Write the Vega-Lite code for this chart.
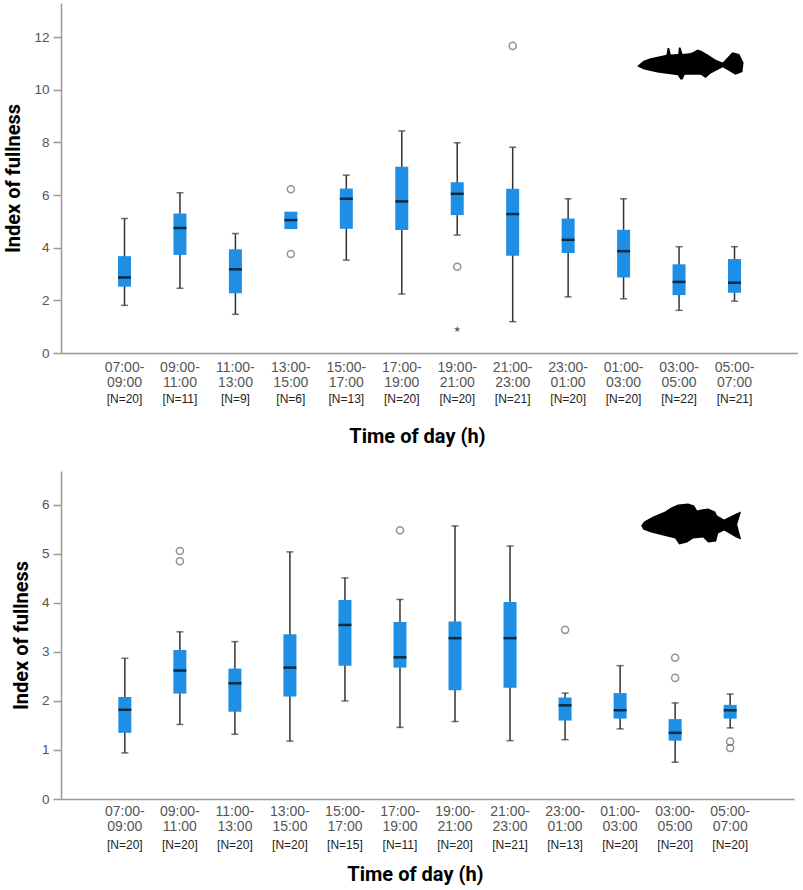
{
  "$schema": "https://vega.github.io/schema/vega-lite/v6.json",
  "padding": {"left": 3, "top": 3, "right": 0, "bottom": 3},
  "spacing": 25,
  "datasets": {
    "stick": [
      {"group": "07:00-09:00 [N=20]", "lo": 1.81, "q1": 2.52, "med": 2.87, "q3": 3.68, "hi": 5.11},
      {"group": "09:00-11:00 [N=11]", "lo": 2.46, "q1": 3.73, "med": 4.75, "q3": 5.30, "hi": 6.09},
      {"group": "11:00-13:00 [N=9]", "lo": 1.47, "q1": 2.27, "med": 3.18, "q3": 3.94, "hi": 4.54},
      {"group": "13:00-15:00 [N=6]", "lo": null, "q1": 4.71, "med": 5.05, "q3": 5.37, "hi": null},
      {"group": "15:00-17:00 [N=13]", "lo": 3.53, "q1": 4.72, "med": 5.86, "q3": 6.25, "hi": 6.76},
      {"group": "17:00-19:00 [N=20]", "lo": 2.24, "q1": 4.67, "med": 5.76, "q3": 7.08, "hi": 8.44},
      {"group": "19:00-21:00 [N=20]", "lo": 4.48, "q1": 5.24, "med": 6.05, "q3": 6.49, "hi": 7.99},
      {"group": "21:00-23:00 [N=21]", "lo": 1.19, "q1": 3.70, "med": 5.28, "q3": 6.24, "hi": 7.82},
      {"group": "23:00-01:00 [N=20]", "lo": 2.13, "q1": 3.80, "med": 4.30, "q3": 5.11, "hi": 5.86},
      {"group": "01:00-03:00 [N=20]", "lo": 2.06, "q1": 2.87, "med": 3.87, "q3": 4.68, "hi": 5.86},
      {"group": "03:00-05:00 [N=22]", "lo": 1.62, "q1": 2.20, "med": 2.70, "q3": 3.37, "hi": 4.04},
      {"group": "05:00-07:00 [N=21]", "lo": 1.97, "q1": 2.29, "med": 2.67, "q3": 3.57, "hi": 4.04}
    ],
    "stickOut": [
      {"group": "13:00-15:00 [N=6]", "value": 6.22, "kind": "circle"},
      {"group": "13:00-15:00 [N=6]", "value": 3.76, "kind": "circle"},
      {"group": "19:00-21:00 [N=20]", "value": 3.28, "kind": "circle"},
      {"group": "19:00-21:00 [N=20]", "value": 0.90, "kind": "star"},
      {"group": "21:00-23:00 [N=21]", "value": 11.67, "kind": "circle"}
    ],
    "perch": [
      {"group": "07:00-09:00 [N=20]", "lo": 0.94, "q1": 1.35, "med": 1.82, "q3": 2.08, "hi": 2.87},
      {"group": "09:00-11:00 [N=20]", "lo": 1.52, "q1": 2.15, "med": 2.62, "q3": 3.04, "hi": 3.41},
      {"group": "11:00-13:00 [N=20]", "lo": 1.32, "q1": 1.78, "med": 2.36, "q3": 2.66, "hi": 3.21},
      {"group": "13:00-15:00 [N=20]", "lo": 1.18, "q1": 2.09, "med": 2.68, "q3": 3.36, "hi": 5.04},
      {"group": "15:00-17:00 [N=15]", "lo": 2.00, "q1": 2.72, "med": 3.55, "q3": 4.06, "hi": 4.51},
      {"group": "17:00-19:00 [N=11]", "lo": 1.46, "q1": 2.68, "med": 2.89, "q3": 3.61, "hi": 4.07},
      {"group": "19:00-21:00 [N=20]", "lo": 1.58, "q1": 2.22, "med": 3.28, "q3": 3.62, "hi": 5.57},
      {"group": "21:00-23:00 [N=21]", "lo": 1.19, "q1": 2.27, "med": 3.28, "q3": 4.02, "hi": 5.16},
      {"group": "23:00-01:00 [N=13]", "lo": 1.21, "q1": 1.60, "med": 1.91, "q3": 2.07, "hi": 2.16},
      {"group": "01:00-03:00 [N=20]", "lo": 1.43, "q1": 1.64, "med": 1.81, "q3": 2.16, "hi": 2.72},
      {"group": "03:00-05:00 [N=20]", "lo": 0.75, "q1": 1.19, "med": 1.35, "q3": 1.63, "hi": 1.96},
      {"group": "05:00-07:00 [N=20]", "lo": 1.45, "q1": 1.64, "med": 1.81, "q3": 1.92, "hi": 2.14}
    ],
    "perchOut": [
      {"group": "09:00-11:00 [N=20]", "value": 5.06, "kind": "circle"},
      {"group": "09:00-11:00 [N=20]", "value": 4.85, "kind": "circle"},
      {"group": "17:00-19:00 [N=11]", "value": 5.48, "kind": "circle"},
      {"group": "23:00-01:00 [N=13]", "value": 3.45, "kind": "circle"},
      {"group": "03:00-05:00 [N=20]", "value": 2.88, "kind": "circle"},
      {"group": "03:00-05:00 [N=20]", "value": 2.47, "kind": "circle"},
      {"group": "05:00-07:00 [N=20]", "value": 1.17, "kind": "circle"},
      {"group": "05:00-07:00 [N=20]", "value": 1.04, "kind": "circle"}
    ],
    "icons": [
      {"panel": "top", "group": "03:00-05:00 [N=22]", "value": 11},
      {"panel": "bottom", "group": "03:00-05:00 [N=20]", "value": 5.6}
    ]
  },
  "vconcat": [
    {
      "width": 737,
      "height": 350,
      "resolve": {"axis": {"x": "independent"}},
      "layer": [
        {
          "data": {"name": "stick"},
          "mark": {"type": "rule", "color": "#333", "strokeWidth": 1.5},
          "encoding": {
            "x": {
              "field": "group", "type": "nominal", "title": null,
              "scale": {
                "domain": ["07:00-09:00 [N=20]", "09:00-11:00 [N=11]", "11:00-13:00 [N=9]", "13:00-15:00 [N=6]", "15:00-17:00 [N=13]", "17:00-19:00 [N=20]", "19:00-21:00 [N=20]", "21:00-23:00 [N=21]", "23:00-01:00 [N=20]", "01:00-03:00 [N=20]", "03:00-05:00 [N=22]", "05:00-07:00 [N=21]"],
                "paddingInner": 0, "paddingOuter": 0.645
              },
              "axis": {"orient": "bottom", "ticks": false, "labelPadding": 7, "labelExpr": "[split(datum.label, '-')[0] + '-', split(split(datum.label, '-')[1], ' ')[0]]"}
            },
            "y": {
              "field": "lo", "type": "quantitative", "title": "Index of fullness",
              "scale": {"domain": [0, 13.3], "nice": false},
              "axis": {"values": [0, 2, 4, 6, 8, 10, 12]}
            },
            "y2": {"field": "hi"}
          }
        },
        {
          "data": {"name": "stick"},
          "mark": {"type": "tick", "color": "#333", "thickness": 1.5, "size": 7},
          "encoding": {
            "x": {"field": "group", "type": "nominal", "axis": null},
            "y": {"field": "lo", "type": "quantitative", "title": "Index of fullness"}
          }
        },
        {
          "data": {"name": "stick"},
          "mark": {"type": "tick", "color": "#333", "thickness": 1.5, "size": 7},
          "encoding": {
            "x": {"field": "group", "type": "nominal", "axis": null},
            "y": {"field": "hi", "type": "quantitative", "title": "Index of fullness"}
          }
        },
        {
          "data": {"name": "stick"},
          "mark": {"type": "bar", "color": "#1f8fe5", "width": 13},
          "encoding": {
            "x": {
              "field": "group", "type": "nominal",
              "axis": {"orient": "bottom", "domain": false, "ticks": false, "labelPadding": 40, "labelFontSize": 12, "labelColor": "#222", "labelExpr": "split(datum.label, ' ')[1]", "title": "Time of day (h)", "titlePadding": 22, "titleX": 356}
            },
            "y": {"field": "q1", "type": "quantitative", "title": "Index of fullness"},
            "y2": {"field": "q3"}
          }
        },
        {
          "data": {"name": "stick"},
          "mark": {"type": "tick", "color": "#000", "thickness": 2.5, "size": 13},
          "encoding": {
            "x": {"field": "group", "type": "nominal", "axis": null},
            "y": {"field": "med", "type": "quantitative", "title": "Index of fullness"}
          }
        },
        {
          "data": {"name": "stickOut"},
          "transform": [{"filter": "datum.kind === 'circle'"}],
          "mark": {"type": "point", "shape": "circle", "filled": false, "color": "#666", "strokeWidth": 1.5, "size": 50},
          "encoding": {
            "x": {"field": "group", "type": "nominal", "axis": null},
            "y": {"field": "value", "type": "quantitative", "title": "Index of fullness"}
          }
        },
        {
          "data": {"name": "stickOut"},
          "transform": [{"filter": "datum.kind === 'star'"}],
          "mark": {"type": "point", "shape": "M0,-1L0.24,-0.32L0.95,-0.31L0.38,0.12L0.59,0.81L0,0.4L-0.59,0.81L-0.38,0.12L-0.95,-0.31L-0.24,-0.32Z", "filled": true, "color": "#222", "size": 45},
          "encoding": {
            "x": {"field": "group", "type": "nominal", "axis": null},
            "y": {"field": "value", "type": "quantitative", "title": "Index of fullness"}
          }
        },
        {
          "data": {"name": "icons"},
          "transform": [{"filter": "datum.panel === 'top'"}],
          "mark": {
            "type": "point", "filled": true, "color": "#000", "opacity": 1, "size": 11449, "xOffset": 11,
            "shape": "M-0.99,0.05L-0.87,-0.05L-0.74,-0.1L-0.46,-0.16L-0.44,-0.17L-0.42,-0.29L-0.39,-0.29L-0.36,-0.17L-0.22,-0.18L-0.21,-0.3L-0.18,-0.3L-0.14,-0.18L-0.01,-0.19L0.05,-0.21L0.14,-0.26L0.21,-0.24L0.36,-0.15L0.48,-0.07L0.61,-0.02L0.79,-0.21L0.92,-0.18L1,-0.02L0.98,0.16L0.85,0.21L0.61,0.07L0.38,0.19L0.29,0.27L0.2,0.21L-0.1,0.21L-0.14,0.3L-0.18,0.3L-0.23,0.22L-0.61,0.17L-0.86,0.11Z"
          },
          "encoding": {
            "x": {"field": "group", "type": "nominal", "axis": null},
            "y": {"field": "value", "type": "quantitative", "title": "Index of fullness"}
          }
        }
      ]
    },
    {
      "width": 733,
      "height": 328,
      "resolve": {"axis": {"x": "independent"}},
      "layer": [
        {
          "data": {"name": "perch"},
          "mark": {"type": "rule", "color": "#333", "strokeWidth": 1.5},
          "encoding": {
            "x": {
              "field": "group", "type": "nominal", "title": null,
              "scale": {
                "domain": ["07:00-09:00 [N=20]", "09:00-11:00 [N=20]", "11:00-13:00 [N=20]", "13:00-15:00 [N=20]", "15:00-17:00 [N=15]", "17:00-19:00 [N=11]", "19:00-21:00 [N=20]", "21:00-23:00 [N=21]", "23:00-01:00 [N=13]", "01:00-03:00 [N=20]", "03:00-05:00 [N=20]", "05:00-07:00 [N=20]"],
                "paddingInner": 0, "paddingOuter": 0.66
              },
              "axis": {"orient": "bottom", "ticks": false, "labelPadding": 5, "labelExpr": "[split(datum.label, '-')[0] + '-', split(split(datum.label, '-')[1], ' ')[0]]"}
            },
            "y": {
              "field": "lo", "type": "quantitative", "title": "Index of fullness",
              "scale": {"domain": [0, 6.69], "nice": false},
              "axis": {"values": [0, 1, 2, 3, 4, 5, 6]}
            },
            "y2": {"field": "hi"}
          }
        },
        {
          "data": {"name": "perch"},
          "mark": {"type": "tick", "color": "#333", "thickness": 1.5, "size": 7},
          "encoding": {
            "x": {"field": "group", "type": "nominal", "axis": null},
            "y": {"field": "lo", "type": "quantitative", "title": "Index of fullness"}
          }
        },
        {
          "data": {"name": "perch"},
          "mark": {"type": "tick", "color": "#333", "thickness": 1.5, "size": 7},
          "encoding": {
            "x": {"field": "group", "type": "nominal", "axis": null},
            "y": {"field": "hi", "type": "quantitative", "title": "Index of fullness"}
          }
        },
        {
          "data": {"name": "perch"},
          "mark": {"type": "bar", "color": "#1f8fe5", "width": 13},
          "encoding": {
            "x": {
              "field": "group", "type": "nominal",
              "axis": {"orient": "bottom", "domain": false, "ticks": false, "labelPadding": 40, "labelFontSize": 12, "labelColor": "#222", "labelExpr": "split(datum.label, ' ')[1]", "title": "Time of day (h)", "titlePadding": 14, "titleX": 354}
            },
            "y": {"field": "q1", "type": "quantitative", "title": "Index of fullness"},
            "y2": {"field": "q3"}
          }
        },
        {
          "data": {"name": "perch"},
          "mark": {"type": "tick", "color": "#000", "thickness": 2.5, "size": 13},
          "encoding": {
            "x": {"field": "group", "type": "nominal", "axis": null},
            "y": {"field": "med", "type": "quantitative", "title": "Index of fullness"}
          }
        },
        {
          "data": {"name": "perchOut"},
          "mark": {"type": "point", "shape": "circle", "filled": false, "color": "#666", "strokeWidth": 1.5, "size": 50},
          "encoding": {
            "x": {"field": "group", "type": "nominal", "axis": null},
            "y": {"field": "value", "type": "quantitative", "title": "Index of fullness"}
          }
        },
        {
          "data": {"name": "icons"},
          "transform": [{"filter": "datum.panel === 'bottom'"}],
          "mark": {
            "type": "point", "filled": true, "color": "#000", "opacity": 1, "size": 10000, "xOffset": 16,
            "shape": "M-1,0.02L-0.94,-0.06L-0.76,-0.16L-0.52,-0.26L-0.4,-0.34L-0.26,-0.4L-0.06,-0.42L0.06,-0.38L0.12,-0.28L0.2,-0.3L0.34,-0.32L0.48,-0.26L0.52,-0.18L0.66,-0.1L0.9,-0.22L1,-0.26L0.92,0L1,0.3L0.9,0.26L0.66,0.12L0.54,0.18L0.5,0.34L0.34,0.36L0.24,0.26L0.04,0.28L-0.08,0.36L-0.24,0.4L-0.32,0.28L-0.56,0.22L-0.8,0.16L-0.96,0.1Z"
          },
          "encoding": {
            "x": {"field": "group", "type": "nominal", "axis": null},
            "y": {"field": "value", "type": "quantitative", "title": "Index of fullness"}
          }
        }
      ]
    }
  ],
  "config": {
    "font": "Liberation Sans",
    "view": {"stroke": null},
    "axis": {
      "grid": false,
      "domainColor": "#999",
      "domainWidth": 1.5,
      "tickColor": "#999",
      "tickSize": 8,
      "tickWidth": 1.5,
      "labelColor": "#555",
      "labelFontSize": 13.5,
      "labelPadding": 4,
      "labelAngle": 0,
      "labelLineHeight": 15,
      "titleFont": "Roboto",
      "titleFontSize": 20,
      "titleFontWeight": "bold",
      "titleColor": "#000",
      "titlePadding": 10
    },
    "axisX": {"labelBaseline": "top", "labelOverlap": false, "labelFontSize": 14}
  }
}
